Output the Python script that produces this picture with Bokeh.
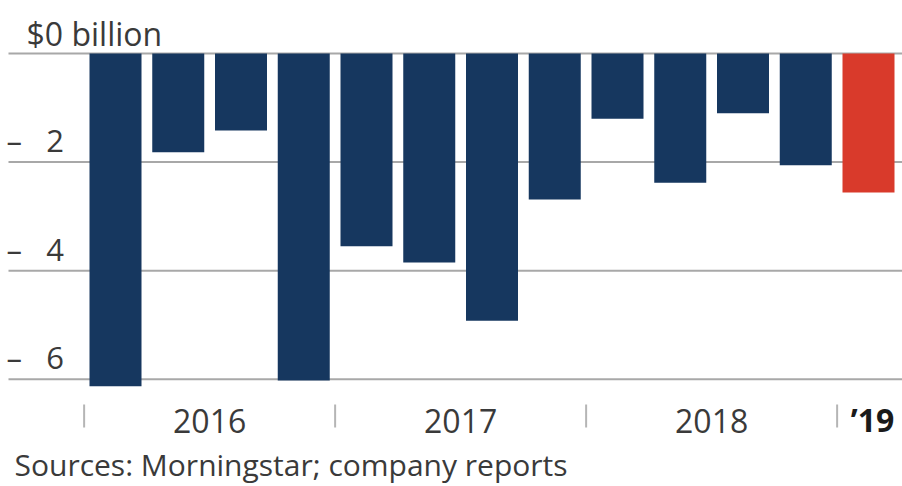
from bokeh.plotting import figure
from bokeh.models import Range1d, ColumnDataSource
from bokeh.core.properties import value
from bokeh.embed import file_html
from bokeh.resources import INLINE

# ---- data ----
quarters = ["2016Q1", "2016Q2", "2016Q3", "2016Q4",
            "2017Q1", "2017Q2", "2017Q3", "2017Q4",
            "2018Q1", "2018Q2", "2018Q3", "2018Q4",
            "2019Q1"]
values = [-6.13, -1.82, -1.42, -6.02,
          -3.55, -3.85, -4.92, -2.69,
          -1.20, -2.38, -1.10, -2.06,
          -2.56]
year_labels = ["2016", "2017", "2018", "\u201919"]
year_of_quarter = [0, 0, 0, 0, 1, 1, 1, 1, 2, 2, 2, 2, 3]
y_ticks = [0, -2, -4, -6]
y_tick_labels = ["$0 billion",
                 "\u2013\u00a0\u00a0\u00a02",
                 "\u2013\u00a0\u00a0\u00a04",
                 "\u2013\u00a0\u00a0\u00a06"]
source_text = "Sources: Morningstar; company reports"

NAVY = "#16375f"
RED = "#d93a2b"
GRID = "#a8a8a8"
TEXT = "#3a3a3a"
FONT = "Open Sans"

W, H = 902, 486
# pixel layout -> data transforms
X0PX, XSTEP = 115.0, 62.75
Y0PX, YSTEP = 53.0, 54.3
SHIFT = 12  # compensation for baseline placement of the svg backend
def dx(px):
    return (px - X0PX) / XSTEP
def dy(py):
    return -(py - Y0PX) / YSTEP

p = figure(width=W, height=H, output_backend="svg", toolbar_location=None,
           x_range=Range1d(dx(0), dx(W)), y_range=Range1d(dy(H), dy(0)),
           x_axis_type=None, y_axis_type=None, min_border=0)
p.outline_line_color = None
p.background_fill_color = "white"
p.border_fill_color = "white"

# gridlines
n = len(y_ticks)
p.segment(x0=[dx(8)] * n, x1=[dx(W)] * n, y0=y_ticks, y1=y_ticks,
          line_color=GRID, line_width=2)

# bars
idx = list(range(len(values)))
colors = [NAVY] * (len(values) - 1) + [RED]
src = ColumnDataSource(dict(x=idx, top=[0] * len(values), bottom=values, color=colors))
p.vbar(x="x", top="top", bottom="bottom", width=52 / XSTEP, fill_color="color",
       line_color=None, source=src)

# y labels
p.text(x=[dx(26)], y=[y_ticks[0]], text=[y_tick_labels[0]], y_offset=-8 - SHIFT,
       text_font=value(FONT), text_font_size="32px", text_color=TEXT,
       text_baseline="alphabetic", text_align="left")
p.text(x=[dx(6)] * (n - 1), y=y_ticks[1:], text=y_tick_labels[1:], y_offset=-10 - SHIFT,
       text_font=value(FONT), text_font_size="31px", text_color=TEXT,
       text_baseline="alphabetic", text_align="left")

# year separators (ticks between year groups)
bounds = [-0.5]
for i in range(1, len(year_of_quarter)):
    if year_of_quarter[i] != year_of_quarter[i - 1]:
        bounds.append(i - 0.5)
p.segment(x0=bounds, x1=bounds, y0=[dy(404)] * len(bounds), y1=[dy(427)] * len(bounds),
          line_color="#b5b5b5", line_width=2)

# year labels at group centres
centers = []
for g in range(len(year_labels)):
    members = [i for i, yq in enumerate(year_of_quarter) if yq == g]
    centers.append(sum(members) / len(members))
p.text(x=centers[:-1], y=[dy(432 - SHIFT)] * (len(centers) - 1), text=year_labels[:-1],
       text_font=value(FONT), text_font_size="32px", text_color=TEXT,
       text_baseline="alphabetic", text_align="center")
p.text(x=[centers[-1]], y=[dy(431 - SHIFT)], text=[year_labels[-1]], x_offset=4,
       text_font=value(FONT), text_font_size="32px", text_color="#1a1a1a",
       text_font_style="bold", text_baseline="alphabetic", text_align="center")

# source note
p.text(x=[dx(14)], y=[dy(476 - SHIFT)], text=[source_text],
       text_font=value(FONT), text_font_size="30px", text_color=TEXT,
       text_baseline="alphabetic", text_align="left")

open("out.html", "w").write(file_html(p, INLINE))
